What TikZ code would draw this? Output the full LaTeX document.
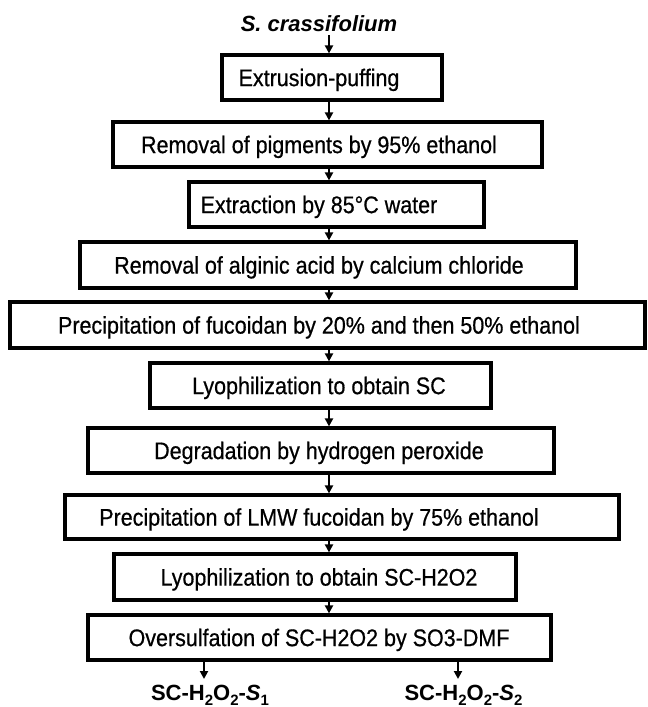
\documentclass[tikz,border=0pt]{standalone}
\usepackage{fontspec}
\setmainfont{Liberation Sans}
\usetikzlibrary{arrows.meta}
\font\boxfnt="Liberation Sans:extend=0.895;embolden=0.6" at 24pt
\newcommand\sbs[1]{\raisebox{-5pt}{\fontsize{15}{15}\selectfont #1}}
\begin{document}
\begin{tikzpicture}[x=1pt,y=-1pt,
  box/.style={draw, line width=3.2pt, inner sep=0pt, minimum height=45pt},
  txt/.style={anchor=base, inner sep=0pt, font=\boxfnt},
  lab/.style={anchor=base, inner sep=0pt, font=\fontsize{22}{26}\selectfont\bfseries},
  arr/.style={line width=2.2pt, -{Triangle[width=8pt,length=8pt]}},
  ]
\useasboundingbox (0,0) rectangle (648,707);
\coordinate (ax) at (329,0);

\node[lab, font=\fontsize{22}{26}\selectfont\bfseries\itshape] (title) at (319,31.7) {S. crassifolium};

\node[box, minimum width=220pt] (b1) at (332,77.5) {};
\node[box, minimum width=429pt] (b2) at (327.5,144.5) {};
\node[box, minimum width=295pt] (b3) at (336.5,204.5) {};
\node[box, minimum width=496pt, minimum height=46pt] (b4) at (328,265) {};
\node[box, minimum width=635pt, minimum height=46pt] (b5) at (327.5,325) {};
\node[box, minimum width=341pt] (b6) at (320.5,385.5) {};
\node[box, minimum width=466pt] (b7) at (321,450.5) {};
\node[box, minimum width=554pt, minimum height=44pt] (b8) at (342,517) {};
\node[box, minimum width=402pt, minimum height=46pt] (b9) at (315,577) {};
\node[box, minimum width=463pt] (b10) at (319.5,637.5) {};

\node[txt] (t1) at (319,86.1) {Extrusion-puffing};
\node[txt] (t2) at (319,153.1) {Removal of pigments by 95\% ethanol};
\node[txt] (t3) at (319,213.1) {Extraction by 85°C water};
\node[txt] (t4) at (319,273.6) {Removal of alginic acid by calcium chloride};
\node[txt] (t5) at (319,333.6) {Precipitation of fucoidan by 20\% and then 50\% ethanol};
\node[txt] (t6) at (319,394.1) {Lyophilization to obtain SC};
\node[txt] (t7) at (319,459.1) {Degradation by hydrogen peroxide};
\node[txt] (t8) at (319,525.6) {Precipitation of LMW fucoidan by 75\% ethanol};
\node[txt] (t9) at (319,585.6) {Lyophilization to obtain SC-H2O2};
\node[txt] (t10) at (319,646.1) {Oversulfation of SC-H2O2 by SO3-DMF};

\draw[arr] ([yshift=-3pt]title.south -| ax) -- (b1.north -| ax);
\foreach \a/\b in {b1/b2,b2/b3,b3/b4,b4/b5,b5/b6,b6/b7,b7/b8,b8/b9,b9/b10}
  \draw[arr] (\a.south -| ax) -- (\b.north -| ax);

\coordinate (e1) at (204,679);
\coordinate (e2) at (458,679);
\draw[arr] (b10.south -| e1) -- (e1);
\draw[arr] (b10.south -| e2) -- (e2);

\node[lab] (s1) at (210,700) {SC-H\sbs{2}O\sbs{2}-\textit{S}\sbs{1}};
\node[lab] (s2) at (463.5,700) {SC-H\sbs{2}O\sbs{2}-\textit{S}\sbs{2}};
\end{tikzpicture}
\end{document}
